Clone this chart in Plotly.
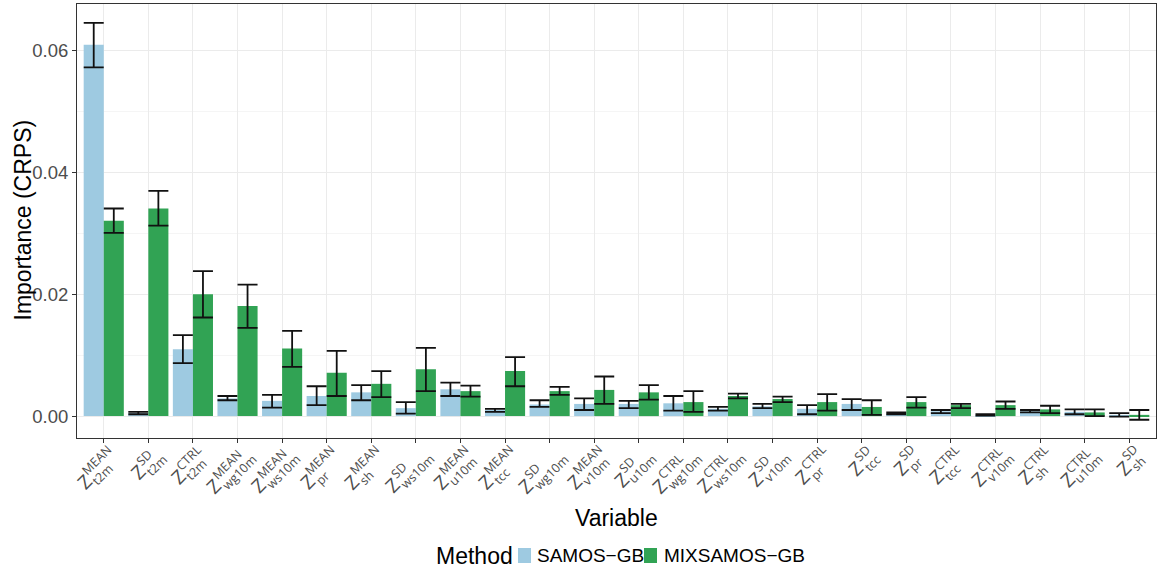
import math
import plotly.graph_objects as go

# Predictor: meteorological variable (subscript) and ensemble statistic (superscript)
variables = ["t2m", "t2m", "t2m", "wg10m", "ws10m", "pr", "sh", "ws10m", "u10m", "tcc",
             "wg10m", "v10m", "u10m", "wg10m", "ws10m", "v10m", "pr", "tcc", "pr", "tcc",
             "v10m", "sh", "u10m", "sh"]
statistics = ["MEAN", "SD", "CTRL", "MEAN", "MEAN", "MEAN", "MEAN", "SD", "MEAN", "MEAN",
              "SD", "MEAN", "SD", "CTRL", "CTRL", "SD", "CTRL", "SD", "SD", "CTRL",
              "CTRL", "CTRL", "CTRL", "SD"]

# Permutation importance (CRPS increase) with lower / upper bounds
samos_imp = [0.0610, 0.0005, 0.0110, 0.0029, 0.0025, 0.0033, 0.0039, 0.0013, 0.0044, 0.0010,
             0.0019, 0.0020, 0.0020, 0.0021, 0.0012, 0.0016, 0.0012, 0.0020, 0.0004, 0.0008,
             0.0002, 0.0008, 0.0007, 0.0002]
samos_lo = [0.0573, 0.0003, 0.0087, 0.0026, 0.0014, 0.0018, 0.0026, 0.0004, 0.0033, 0.0007,
            0.0015, 0.0010, 0.0013, 0.0009, 0.0009, 0.0013, 0.0003, 0.0010, 0.0003, 0.0005,
            0.0001, 0.0006, 0.0003, -0.0001]
samos_hi = [0.0646, 0.0007, 0.0133, 0.0033, 0.0035, 0.0049, 0.0051, 0.0023, 0.0055, 0.0012,
            0.0026, 0.0029, 0.0025, 0.0033, 0.0015, 0.0020, 0.0018, 0.0028, 0.0006, 0.0010,
            0.0003, 0.0010, 0.0011, 0.0005]

mix_imp = [0.0321, 0.0341, 0.0200, 0.0181, 0.0111, 0.0071, 0.0053, 0.0077, 0.0041, 0.0074,
           0.0041, 0.0043, 0.0039, 0.0023, 0.0033, 0.0028, 0.0023, 0.0015, 0.0023, 0.0018,
           0.0018, 0.0011, 0.0006, 0.0002]
mix_lo = [0.0301, 0.0313, 0.0162, 0.0145, 0.0081, 0.0033, 0.0031, 0.0041, 0.0032, 0.0049,
          0.0035, 0.0020, 0.0027, 0.0007, 0.0029, 0.0023, 0.0009, 0.0002, 0.0014, 0.0013,
          0.0012, 0.0005, 0.0000, -0.0006]
mix_hi = [0.0341, 0.0370, 0.0238, 0.0216, 0.0140, 0.0107, 0.0074, 0.0112, 0.0050, 0.0097,
          0.0048, 0.0065, 0.0051, 0.0041, 0.0037, 0.0032, 0.0036, 0.0026, 0.0031, 0.0020,
          0.0024, 0.0017, 0.0011, 0.0010]

method_names = ["SAMOS\u2212GB", "MIXSAMOS\u2212GB"]
colors = ["#9ECAE1", "#31A354"]

FONT = "Liberation Sans, Arial, sans-serif"
LABEL_FONT = '"Open Sans", verdana, arial, sans-serif'
W_FIG, H_FIG = 1158, 572
M_L, M_R, M_T, M_B = 77, 2, 4, 134
PW, PH = W_FIG - M_L - M_R, H_FIG - M_T - M_B
X_RANGE = [-0.6, 23.6]
keys = [f"{s}_{v}" for v, s in zip(variables, statistics)]


def err(vals, lo, hi):
    return dict(type="data", symmetric=False,
                array=[h - v for v, h in zip(vals, hi)],
                arrayminus=[v - l for v, l in zip(vals, lo)],
                color="#111111", thickness=1.8, width=10)


fig = go.Figure()
for name, col, vals, lo, hi in [
    (method_names[0], colors[0], samos_imp, samos_lo, samos_hi),
    (method_names[1], colors[1], mix_imp, mix_lo, mix_hi),
]:
    fig.add_trace(go.Bar(x=keys, y=vals, name=name, showlegend=False,
                         marker=dict(color=col, line=dict(width=0)),
                         error_y=err(vals, lo, hi)))


def px_x(p):
    return (p - M_L) / PW


def px_y(p):
    return (H_FIG - M_B - p) / PH


def cat_px(i):
    return M_L + (i - X_RANGE[0]) / (X_RANGE[1] - X_RANGE[0]) * PW


# Rotated tick labels Z_{var}^{stat}, assembled from pieces so sub/superscripts stack
char_w = {"Z": .60, "M": .90, "E": .57, "A": .65, "N": .75, "S": .55, "D": .73,
          "C": .63, "T": .56, "R": .62, "L": .52, "t": .35, "2": .57, "m": .88,
          "w": .78, "g": .55, "1": .57, "0": .57, "s": .48, "p": .61, "r": .41,
          "h": .61, "u": .61, "c": .48, "v": .52}


def text_w(s, size):
    return sum(char_w.get(ch, 0.57) for ch in s) * size


fZ, fS = 19, 12.5
c = math.cos(math.radians(45))
axis_px = H_FIG - M_B
p0x, p0y = 3, 6          # top-right corner of a label, relative to its tick at the axis
tick_col = "#4D4D4D"
annotations = []
for i, (v, s) in enumerate(zip(variables, statistics)):
    wZ = text_w("Z", fZ)
    wsup, wsub = text_w(s, fS), text_w(v, fS)
    W = wZ + 1 + max(wsup, wsub)
    top = 0.45 * fZ + 0.72 * fS
    pieces = [
        ("Z", fZ, wZ / 2, 0.36 * fZ),
        (s, fS, wZ + 1 + wsup / 2, 0.45 * fZ + 0.36 * fS),
        (v, fS, wZ + 1 + wsub / 2, -0.30 * fZ + 0.36 * fS),
    ]
    for txt, size, cx, cy in pieces:
        lx, ly = cx - W, cy - top
        sx = cat_px(i) + p0x + c * (lx - ly)
        sy = axis_px + p0y - c * (lx + ly)
        annotations.append(dict(
            x=px_x(sx), xref="paper", y=px_y(sy), yref="paper", text=txt, showarrow=False,
            textangle=-45, xanchor="center", yanchor="middle",
            font=dict(family=LABEL_FONT, size=size, color=tick_col)))

# Axis titles
annotations.append(dict(x=px_x(22.5), y=px_y(220), xref="paper", yref="paper",
                        text="Importance (CRPS)", showarrow=False, textangle=-90,
                        xanchor="center", yanchor="middle",
                        font=dict(family=FONT, size=23, color="black")))
annotations.append(dict(x=px_x(616), y=px_y(518), xref="paper", yref="paper",
                        text="Variable", showarrow=False,
                        xanchor="center", yanchor="middle",
                        font=dict(family=FONT, size=23, color="black")))

# Legend at the bottom: title, colour keys and method names
leg_y = 555.5
annotations.append(dict(x=px_x(434), y=px_y(leg_y), xref="paper", yref="paper",
                        text="Method", showarrow=False, xanchor="left", yanchor="middle",
                        font=dict(family=FONT, size=23, color="black")))
shapes = []
for key_x, text_x, name, col in [(518, 535, method_names[0], colors[0]),
                                 (644, 662, method_names[1], colors[1])]:
    shapes.append(dict(type="rect", xref="paper", yref="paper",
                       x0=px_x(key_x), x1=px_x(key_x + 13),
                       y0=px_y(leg_y + 7.5), y1=px_y(leg_y - 7.5),
                       fillcolor=col, line=dict(width=0)))
    annotations.append(dict(x=px_x(text_x), y=px_y(leg_y), xref="paper", yref="paper",
                            text=name, showarrow=False, xanchor="left", yanchor="middle",
                            font=dict(family=FONT, size=19, color="black")))

fig.update_layout(
    width=W_FIG, height=H_FIG,
    margin=dict(l=M_L, r=M_R, t=M_T, b=M_B),
    paper_bgcolor="white", plot_bgcolor="white",
    font=dict(family=FONT, color="black"),
    barmode="group", bargap=0.1, bargroupgap=0,
    annotations=annotations, shapes=shapes, showlegend=False,
    xaxis=dict(
        type="category", range=X_RANGE, showticklabels=False, automargin=False,
        ticks="outside", ticklen=4, tickcolor="#333333", tickwidth=1,
        showgrid=True, gridcolor="#EBEBEB", gridwidth=1,
        showline=True, linecolor="#333333", linewidth=1, mirror=True,
    ),
    yaxis=dict(
        range=[-0.0036, 0.0677], tickvals=[0, 0.02, 0.04, 0.06], automargin=False,
        ticktext=["0.00", "0.02", "0.04", "0.06"],
        ticks="outside", ticklen=4, tickcolor="#333333", tickwidth=1,
        tickfont=dict(family=FONT, size=18.5, color=tick_col),
        showgrid=True, gridcolor="#EBEBEB", gridwidth=1, zeroline=False,
        minor=dict(tickvals=[0.01, 0.03, 0.05], showgrid=True, gridcolor="#F5F5F5", ticks=""),
        showline=True, linecolor="#333333", linewidth=1, mirror=True,
    ),
)

fig.write_html("out.html")
